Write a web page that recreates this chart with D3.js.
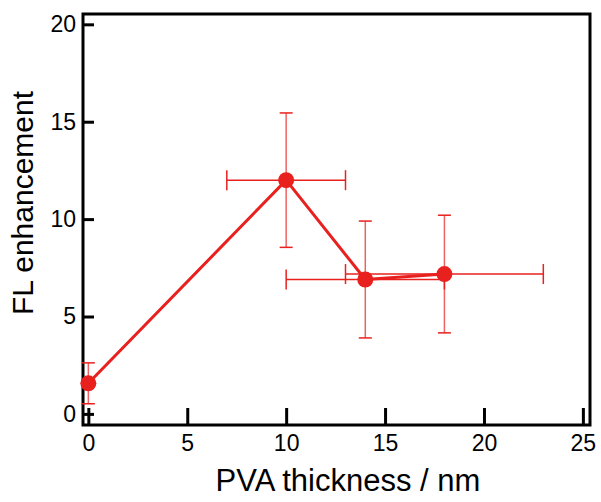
<!DOCTYPE html>
<html>
<head>
<meta charset="utf-8">
<script src="https://cdn.jsdelivr.net/npm/d3@7"></script>
<style>
    body { margin: 0; background: #fff; }
    svg { display: block; font-family: "Liberation Sans", Arial, sans-serif; }
</style>
</head>
<body>
<div id="chart"></div>
<script>
'use strict';

// data
var thickness = [0, 10, 14, 18],
    enhancement = [1.57, 12.0, 6.9, 7.18],
    thicknessErr = [0, 3, 4, 5],
    enhancementErr = [1.05, 3.45, 3.0, 3.02],
    xTicks = [0, 5, 10, 15, 20, 25],
    yTicks = [0, 5, 10, 15, 20];

var width = 601,
    height = 502,
    red = "#e8201e",
    frame = {left: 83, right: 590, top: 14, bottom: 425};

var svg = d3.select("#chart").append("svg")
    .attr("width", width)
    .attr("height", height);

var x = d3.scaleLinear().domain([-0.27, 25.36]).range([frame.left, frame.right]),
    y = d3.scaleLinear().domain([-0.57, 20.53]).range([frame.bottom, frame.top]);

var points = thickness.map(function(t, i) {
    return {x: t, y: enhancement[i], dx: thicknessErr[i], dy: enhancementErr[i]};
});

//Axes (ticks point inward)
var xAxis = svg.append("g")
    .attr("transform", "translate(0," + frame.bottom + ")")
    .call(d3.axisBottom(x).tickValues(xTicks).tickSizeInner(-17).tickSizeOuter(0).tickPadding(10));

var yAxis = svg.append("g")
    .attr("transform", "translate(" + frame.left + ",0)")
    .call(d3.axisLeft(y).tickValues(yTicks).tickSizeInner(-11).tickSizeOuter(0).tickPadding(7));

[xAxis, yAxis].forEach(function(a) {
    a.select(".domain").remove();
    a.selectAll(".tick line").attr("stroke", "#000").attr("stroke-width", 3);
    a.selectAll(".tick text").attr("fill", "#000").style("font-size", "23px");
});

//Frame
svg.append("rect")
    .attr("x", frame.left)
    .attr("y", frame.top)
    .attr("width", frame.right - frame.left)
    .attr("height", frame.bottom - frame.top)
    .attr("fill", "none")
    .attr("stroke", "#000")
    .attr("stroke-width", 3);

//Error bars
var err = svg.append("g")
    .attr("stroke", red)
    .attr("stroke-width", 1.5)
    .attr("fill", "none");

points.forEach(function(d) {
    var cx = x(d.x), cy = y(d.y);
    if (d.dy) {
        var y0 = y(d.y - d.dy), y1 = y(d.y + d.dy);
        err.append("line").attr("x1", cx).attr("x2", cx).attr("y1", y0).attr("y2", y1).attr("stroke-opacity", 0.7);
        err.append("line").attr("x1", cx - 6.5).attr("x2", cx + 6.5).attr("y1", y0).attr("y2", y0);
        err.append("line").attr("x1", cx - 6.5).attr("x2", cx + 6.5).attr("y1", y1).attr("y2", y1);
    }
    if (d.dx) {
        var x0 = x(d.x - d.dx), x1 = x(d.x + d.dx);
        err.append("line").attr("x1", x0).attr("x2", x1).attr("y1", cy).attr("y2", cy);
        err.append("line").attr("x1", x0).attr("x2", x0).attr("y1", cy - 10).attr("y2", cy + 10);
        err.append("line").attr("x1", x1).attr("x2", x1).attr("y1", cy - 10).attr("y2", cy + 10);
    }
});

//Line and markers
svg.append("path")
    .datum(points)
    .attr("fill", "none")
    .attr("stroke", red)
    .attr("stroke-width", 3)
    .attr("stroke-linejoin", "round")
    .attr("d", d3.line().x(function(d) { return x(d.x); }).y(function(d) { return y(d.y); }));

svg.append("g")
    .selectAll("circle")
    .data(points)
    .enter().append("circle")
    .attr("cx", function(d) { return x(d.x); })
    .attr("cy", function(d) { return y(d.y); })
    .attr("r", 8)
    .attr("fill", red);

//Axis titles
svg.append("text")
    .attr("x", 348)
    .attr("y", 491)
    .attr("text-anchor", "middle")
    .style("font-size", "31px")
    .text("PVA thickness / nm");

svg.append("text")
    .attr("transform", "translate(33,203) rotate(-90)")
    .attr("text-anchor", "middle")
    .style("font-size", "30px")
    .text("FL enhancement");
</script>
</body>
</html>
